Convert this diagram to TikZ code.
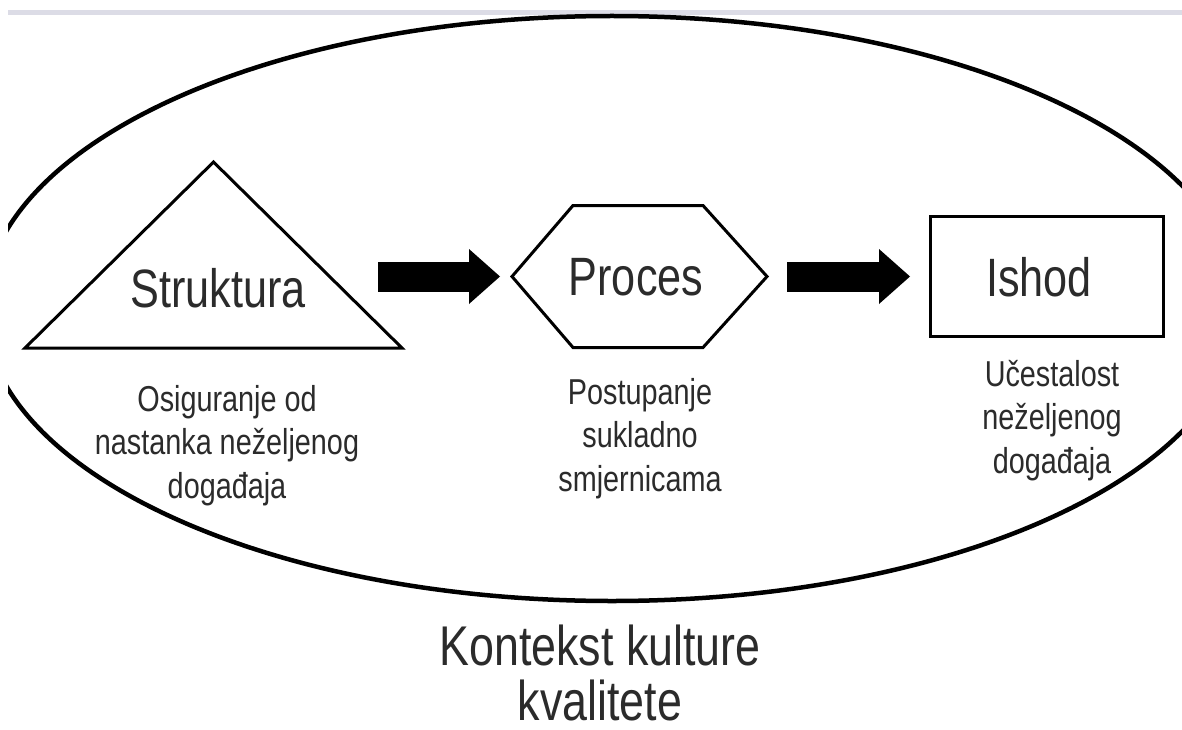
\documentclass[tikz,border=0pt]{standalone}
\usepackage{fontspec}
\setmainfont{Liberation Sans}[FakeStretch=0.8]
\usetikzlibrary{arrows.meta}
\definecolor{txt}{HTML}{2B2B2B}
\definecolor{strip}{HTML}{DCDCE6}
\begin{document}
\begin{tikzpicture}[x=1pt,y=-1pt,
  shapeline/.style={line width=3pt, line join=miter},
  frame/.style={draw=none, inner sep=0pt, outer sep=0pt},
  lbl/.style={anchor=base, text=txt, font=\fontsize{54}{60}\selectfont, inner sep=0pt},
  desc/.style={anchor=base, text=txt, align=center, font=\fontsize{36}{43.5}\selectfont, inner sep=0pt},
  bigarrow/.style={line width=30pt, -{Triangle[length=31pt,width=55pt,line width=0pt]}}]
\useasboundingbox (0,0) rectangle (1182,730);
\fill[white] (0,0) rectangle (1182,730);
\fill[strip] (8,10) rectangle (1182,15);
\begin{scope}
\clip (8,0) rectangle (1182,730);
\draw[line width=4.5pt] (612,308.5) ellipse [x radius=628, y radius=292.5];
\end{scope}
% Struktura
\node[frame, minimum width=377, minimum height=186] (tribox) at (213.5,255) {};
\draw[shapeline] (tribox.south west) -- (tribox.south east) -- (tribox.north) -- cycle;
\node[lbl] (struk) at (218,307) {Struktura};
% Proces
\node[frame, minimum width=255, minimum height=142] (hexbox) at (639.5,276.5) {};
\draw[shapeline] (hexbox.west) -- ([xshift=61pt]hexbox.north west) -- ([xshift=-64pt]hexbox.north east) -- (hexbox.east) -- ([xshift=-64pt]hexbox.south east) -- ([xshift=61pt]hexbox.south west) -- cycle;
\node[lbl] (proces) at (636,295) {Proces};
% Ishod
\node[draw, line width=3pt, inner sep=0pt, outer sep=0pt, minimum width=233, minimum height=120] (ishodbox) at (1046.5,276.5) {};
\node[lbl] (ishod) at (1039,296) {Ishod};
% arrows
\draw[bigarrow, shorten <=-24pt, shorten >=12pt] (tribox.east |- hexbox.west) -- (hexbox.west);
\draw[bigarrow, shorten <=20pt, shorten >=20pt] (hexbox.east) -- (ishodbox.west);
% descriptions (base anchor = last line's baseline)
\node[desc] (d1) at (227,498) {Osiguranje od\\nastanka neželjenog\\događaja};
\node[desc] (d2) at (640,491) {Postupanje\\sukladno\\smjernicama};
\node[desc] (d3) at (1052,473) {Učestalost\\neželjenog\\događaja};
\node[desc, font=\fontsize{56}{55}\selectfont] (ctx) at (600,720) {Kontekst kulture\\kvalitete};
\end{tikzpicture}
\end{document}
